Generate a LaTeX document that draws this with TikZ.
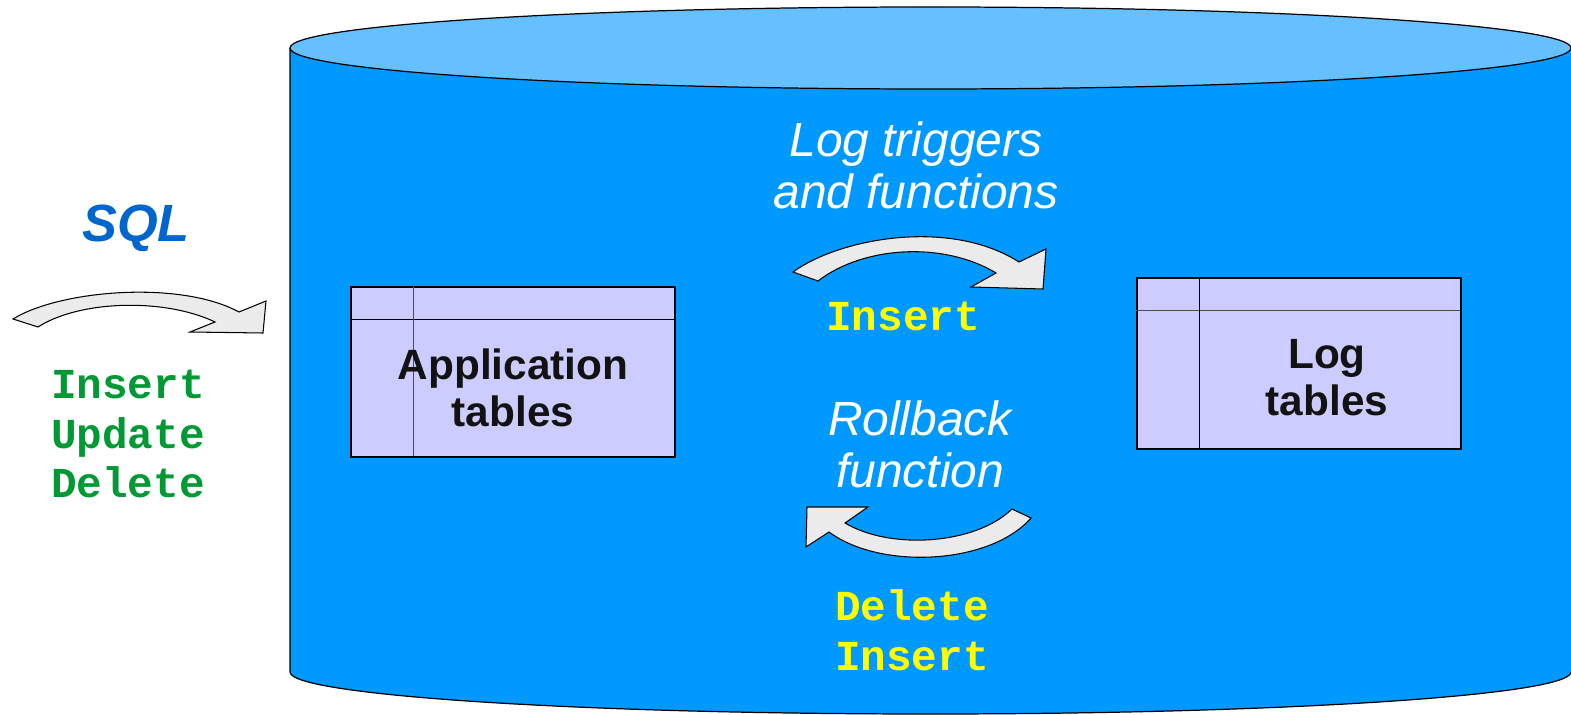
\documentclass[tikz,border=0pt]{standalone}
\usepackage{fontspec}
\setmainfont{Liberation Sans}
\setmonofont{Liberation Mono}

\definecolor{dbbody}{RGB}{0,153,255}
\definecolor{dbtop}{RGB}{102,192,255}
\definecolor{tablefill}{RGB}{204,204,255}
\definecolor{sqlblue}{RGB}{0,102,204}
\definecolor{cmdgreen}{RGB}{0,153,51}
\definecolor{cmdyellow}{RGB}{255,255,0}
\definecolor{arrowgray}{RGB}{235,235,235}

\tikzset{
	bentarrow/.style={fill=arrowgray, draw=black, line width=0.6pt, line join=miter},
	dbtable/.style={draw=black, fill=tablefill, line width=0.6pt, rectangle, inner sep=0pt},
	tablelabel/.style={align=center, font=\bfseries\fontsize{24.1}{26.6}\selectfont, text=black!93},
	bluelabel/.style={align=center, font=\itshape\fontsize{27.3}{29.5}\selectfont, text=white},
	sqlcmd/.style={align=center, font=\ttfamily\bfseries\fontsize{24.3}{28.35}\selectfont},
}

\begin{document}
\begin{tikzpicture}[x=0.02cm, y=-0.02cm]
	\useasboundingbox (0, 0) rectangle (1571, 715);

	% database cylinder
	\fill[dbbody] (290, 48) -- (290, 672) arc[start angle=180, end angle=0, x radius=640.5, y radius=42] -- (1571, 48) -- cycle;
	\draw[line width=0.7pt] (290, 48) -- (290, 672) arc[start angle=180, end angle=0, x radius=640.5, y radius=42];
	\draw[fill=dbtop, line width=0.7pt] (930.5, 48) ellipse[x radius=640.5, y radius=41];

	% tables
	\node[dbtable, minimum width=324*0.02cm, minimum height=170*0.02cm] (app) at (513, 372) {};
	\node[dbtable, minimum width=324*0.02cm, minimum height=171*0.02cm] (logt) at (1299, 363.5) {};
	\draw[line width=0.6pt] (app.north west) ++(0, 33) -- ++(324, 0);
	\draw[line width=0.6pt, black!70] (app.north west) ++(63, 0) -- ++(0, 170);
	\draw[line width=0.6pt, black!70] (logt.north west) ++(0, 33) -- ++(324, 0);
	\draw[line width=0.6pt] (logt.north west) ++(63, 0) -- ++(0, 171);

	\node[tablelabel] (applabel) at (513, 388) {Application\\tables};
	\node[tablelabel] (loglabel) at (1327, 378) {Log\\tables};

	% curved arrows
	\draw[bentarrow] (13, 319) .. controls (60, 290) and (180, 280) .. (239, 312) -- (266, 301) -- (263, 333) -- (190, 332) -- (215, 322) .. controls (165, 298) and (80, 300) .. (38, 327) -- cycle;
	\draw[bentarrow] (793, 272) .. controls (840, 238) and (950, 218) .. (1019, 262) -- (1046, 249) -- (1043, 289) -- (971, 287) -- (996, 273) .. controls (945, 242) and (865, 245) .. (818, 281) -- cycle;
	\draw[bentarrow] (1031, 518) .. controls (990, 565) and (880, 570) .. (829, 532) -- (806, 547) -- (807, 507) -- (868, 507) -- (845, 523) .. controls (890, 550) and (975, 545) .. (1012, 509) -- cycle;

	% labels
	\node[font=\bfseries\itshape\fontsize{29.8}{32}\selectfont, text=sqlblue] (sql) at (136, 228) {SQL};
	\node[sqlcmd, text=cmdgreen] (clientcmds) at (128, 434) {Insert\\Update\\Delete};
	\node[bluelabel] (triggers) at (916, 165) {Log triggers\\and functions};
	\node[sqlcmd, text=cmdyellow] (logins) at (903, 316) {Insert};
	\node[bluelabel] (rollback) at (920, 444) {Rollback\\function};
	\node[sqlcmd, text=cmdyellow] (rbcmds) at (912, 630) {Delete\\Insert};

\end{tikzpicture}
\end{document}
